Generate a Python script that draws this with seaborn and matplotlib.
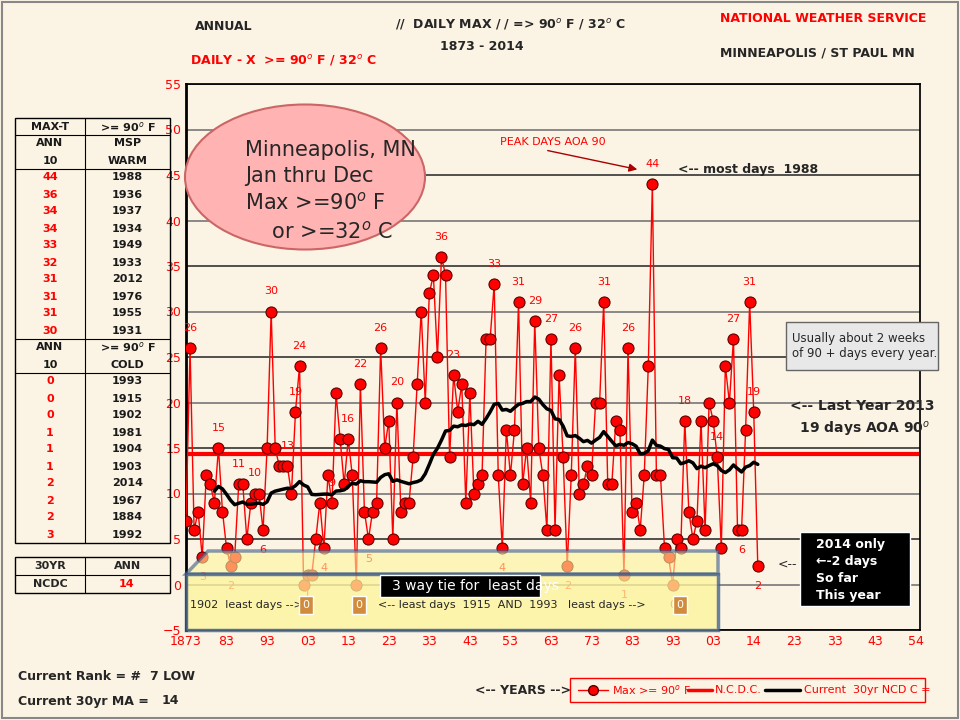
import numpy as np
import pandas as pd
import matplotlib
matplotlib.use("Agg")
import matplotlib.pyplot as plt
import seaborn as sns
from matplotlib.patches import Ellipse, Rectangle, Polygon, FancyBboxPatch

sns.set_theme(style="white")
plt.rcParams['font.family'] = ['DejaVu Sans']

years = list(range(1873, 2015))
days = [7, 26, 6, 8, 3, 12, 11, 9, 15, 8,
        4, 2, 3, 11, 11, 5, 9, 10, 10, 6,
        15, 30, 15, 13, 13, 13, 10, 19, 24, 0,
        1, 1, 5, 9, 4, 12, 9, 21, 16, 11,
        16, 12, 0, 22, 8, 5, 8, 9, 26, 15,
        18, 5, 20, 8, 9, 9, 14, 22, 30, 20,
        32, 34, 25, 36, 34, 14, 23, 19, 22, 9,
        21, 10, 11, 12, 27, 27, 33, 12, 4, 17,
        12, 17, 31, 11, 15, 9, 29, 15, 12, 6,
        27, 6, 23, 14, 2, 12, 26, 10, 11, 13,
        12, 20, 20, 31, 11, 11, 18, 17,
        1, 26, 8, 9, 6, 12, 24, 44, 12, 12, 4, 3, 0,
        5, 4, 18, 8, 5, 7, 18, 6, 20, 18,
        14, 4, 24, 20, 27, 6, 6, 17, 31, 19, 2]
ncdc_normal = 14.3
label_years = [1874, 1877, 1881, 1884, 1886, 1890, 1892, 1894, 1898, 1900, 1901, 1903, 1907, 1909, 1913,
               1916, 1918, 1921, 1925, 1936, 1939, 1949, 1951, 1955, 1959, 1963, 1967, 1969, 1976, 1981,
               1982, 1988, 1993, 1996, 2004, 2008, 2010, 2012, 2013, 2014]

warm_vals = [44, 36, 34, 34, 33, 32, 31, 31, 31, 30]
warm_years = [1988, 1936, 1937, 1934, 1949, 1933, 2012, 1976, 1955, 1931]
cold_vals = [0, 0, 0, 1, 1, 1, 2, 2, 2, 3]
cold_years = [1993, 1915, 1902, 1981, 1904, 1903, 2014, 1967, 1884, 1992]
xtick_pos = list(range(1873, 2055, 10))
xtick_lab = ["1873", "83", "93", "03", "13", "23", "33", "43", "53", "63", "73", "83", "93", "03", "14", "23", "33", "43", "54"]

df = pd.DataFrame({"year": years, "days": days})
df["ma"] = df["days"].rolling(30, min_periods=8).mean()

RED = "#ff0000"
fig = plt.figure(figsize=(9.6, 7.2), dpi=100, facecolor="#fbf3e3")
ax = fig.add_axes([186/960, 1-630/720, (920-186)/960, (630-84)/720])
ax.set_facecolor("#fbf3e3")
ax.set_xlim(1873, 2054)
ax.set_ylim(-5, 55)
for yv in range(-5, 56, 5):
    ax.axhline(yv, color="#333333" if yv % 10 else "#777777", lw=1.2, zorder=1)
ax.axhline(ncdc_normal, color=RED, lw=3, zorder=2)
sns.lineplot(data=df, x="year", y="days", ax=ax, color=RED, lw=1, marker="o", markersize=8,
             markerfacecolor=RED, markeredgecolor="#550000", zorder=4)
sns.lineplot(data=df.dropna(), x="year", y="ma", ax=ax, color="black", lw=2.5, zorder=5)
for y, v in zip(years, days):
    if y in label_years:
        off = 2.2 if v > 8 else -2.2
        ax.text(y, v + off, str(v), color=RED, fontsize=8, ha="center", va="center", zorder=6)
ax.set_xticks(xtick_pos)
ax.set_xticklabels(xtick_lab)
ax.set_yticks(range(-5, 56, 5))
ax.tick_params(colors=RED, labelsize=9, length=0)
for lab in ax.get_xticklabels() + ax.get_yticklabels():
    lab.set_color(RED)
ax.set_xlabel(""); ax.set_ylabel("")
for s in ax.spines.values():
    s.set_color("black")
ax.spines["left"].set_linewidth(2)

ov = fig.add_axes([0, 0, 1, 1], facecolor="none")
ov.set_xlim(0, 960); ov.set_ylim(720, 0); ov.axis("off")
ov.add_patch(Rectangle((2, 2), 956, 716, fill=False, ec="#888888", lw=1.5))
ov.text(195, 30, "ANNUAL", fontsize=9, fontweight="bold")
ov.text(190, 64, "DAILY - X  >= 90$^o$ F / 32$^o$ C", fontsize=9, color=RED, fontweight="bold")
ov.text(395, 28, "//  DAILY MAX / / => 90$^o$ F / 32$^o$ C", fontsize=9, fontweight="bold")
ov.text(440, 50, "1873 - 2014", fontsize=9, fontweight="bold")
ov.text(720, 22, "NATIONAL WEATHER SERVICE", fontsize=9, color=RED, fontweight="bold")
ov.text(720, 56, "MINNEAPOLIS / ST PAUL MN", fontsize=9, fontweight="bold")
ov.add_patch(Ellipse((305, 177), 240, 145, fc="#ffb3b3", ec="#cc6666", lw=1.5))
ov.text(245, 140, "Minneapolis, MN\nJan thru Dec\nMax >=90$^o$ F\n    or >=32$^o$ C", fontsize=15,
        va="top", linespacing=1.35)
ov.text(500, 145, "PEAK DAYS AOA 90", fontsize=8, color=RED)
ov.annotate("", xy=(640, 170), xytext=(545, 150), arrowprops=dict(arrowstyle="-|>", color="#aa0000"))
ov.text(678, 173, "<-- most days  1988", fontsize=9, fontweight="bold")
ov.add_patch(FancyBboxPatch((786, 322), 152, 48, boxstyle="square,pad=0", fc="#e8e8e8", ec="#666666"))
ov.text(792, 346, "Usually about 2 weeks\nof 90 + days every year.", fontsize=8.5, va="center")
ov.text(790, 419, "<-- Last Year 2013\n  19 days AOA 90$^o$", fontsize=10, fontweight="bold", va="center",
        linespacing=1.5)
ov.add_patch(Rectangle((800, 532), 110, 74, fc="black"))
ov.text(816, 570, "2014 only\n\u2190-2 days\nSo far\nThis year", color="white", fontsize=9,
        fontweight="bold", va="center", linespacing=1.4)
ov.text(778, 568, "<--", fontsize=9)
ov.add_patch(Polygon([(186, 574), (718, 574), (718, 630), (186, 630)], fc="#fff59a", alpha=0.75,
                     ec="#3a5a8a", lw=2.5, zorder=3))
ov.add_patch(Polygon([(186, 574), (208, 551), (718, 551), (718, 574)], fc="#fff59a", alpha=0.6,
                     ec="#3a5a8a", lw=2.5))
ov.add_patch(Rectangle((380, 575), 160, 22, fc="black", zorder=4))
ov.text(392, 586, "3 way tie for  least days", color="white", fontsize=10, va="center", zorder=5)
ov.text(190, 605, "1902  least days -->", fontsize=8, va="center", zorder=5)
ov.text(378, 605, "<-- least days  1915  AND  1993   least days -->", fontsize=8, va="center", zorder=5)
for xp in (306, 359, 680):
    ov.add_patch(Rectangle((xp - 7, 596), 14, 18, fc="#d08c3c", zorder=5))
    ov.text(xp, 605, "0", fontsize=8, ha="center", va="center", color="white", zorder=6)
x0, x1, x2 = 15, 85, 170
top = 118
rows = [("MAX-T", ">= 90$^o$ F", "k"), ("ANN", "MSP", "k"), ("10", "WARM", "k")]
rows += [(str(v), str(y), RED) for v, y in zip(warm_vals, warm_years)]
rows += [("ANN", ">= 90$^o$ F", "k"), ("10", "COLD", "k")]
rows += [(str(v), str(y), RED) for v, y in zip(cold_vals, cold_years)]
rh = 17.0
ov.add_patch(Rectangle((x0, top), x2 - x0, rh * len(rows), fill=False, ec="black", lw=1))
ov.plot([x1, x1], [top, top + rh * len(rows)], color="black", lw=0.8)
for i, (a, b, c) in enumerate(rows):
    yc = top + rh * i + rh / 2
    ov.text((x0 + x1) / 2, yc, a, ha="center", va="center", fontsize=8, fontweight="bold", color=c)
    ov.text((x1 + x2) / 2, yc, b, ha="center", va="center", fontsize=8, fontweight="bold", color="k")
    if i in (0, 2, 12, 14):
        ov.plot([x0, x2], [yc + rh / 2] * 2, color="black", lw=0.8)
ov.add_patch(Rectangle((x0, 557), x2 - x0, 36, fill=False, ec="black", lw=1))
ov.plot([x1, x1], [557, 593], color="black", lw=0.8)
ov.plot([x0, x2], [575, 575], color="black", lw=0.8)
ov.text(50, 566, "30YR", ha="center", va="center", fontsize=8, fontweight="bold")
ov.text(127, 566, "ANN", ha="center", va="center", fontsize=8, fontweight="bold")
ov.text(50, 584, "NCDC", ha="center", va="center", fontsize=8, fontweight="bold")
ov.text(127, 584, "14", ha="center", va="center", fontsize=8, fontweight="bold", color=RED)
ov.text(18, 676, "Current Rank = #", fontsize=9, fontweight="bold", va="center")
ov.text(150, 676, "7 LOW", fontsize=9, fontweight="bold", va="center")
ov.text(18, 701, "Current 30yr MA =", fontsize=9, fontweight="bold", va="center")
ov.text(162, 701, "14", fontsize=9, fontweight="bold", va="center")
ov.text(475, 690, "<-- YEARS -->", fontsize=9, fontweight="bold", va="center")
ov.add_patch(Rectangle((570, 678), 355, 24, fill=False, ec=RED, lw=1))
ov.plot([578, 608], [690, 690], color=RED, lw=1); ov.plot([593], [690], "o", color=RED, mec="#550000", ms=7)
ov.text(612, 690, "Max >= 90$^o$ F", color=RED, fontsize=8, va="center")
ov.plot([688, 712], [690, 690], color=RED, lw=2.5)
ov.text(715, 690, "N.C.D.C.", color=RED, fontsize=8, va="center")
ov.plot([765, 800], [690, 690], color="black", lw=2.5)
ov.text(804, 690, "Current  30yr NCD C =", color=RED, fontsize=8, va="center")

fig.savefig("out.png", dpi=100, facecolor=fig.get_facecolor())
